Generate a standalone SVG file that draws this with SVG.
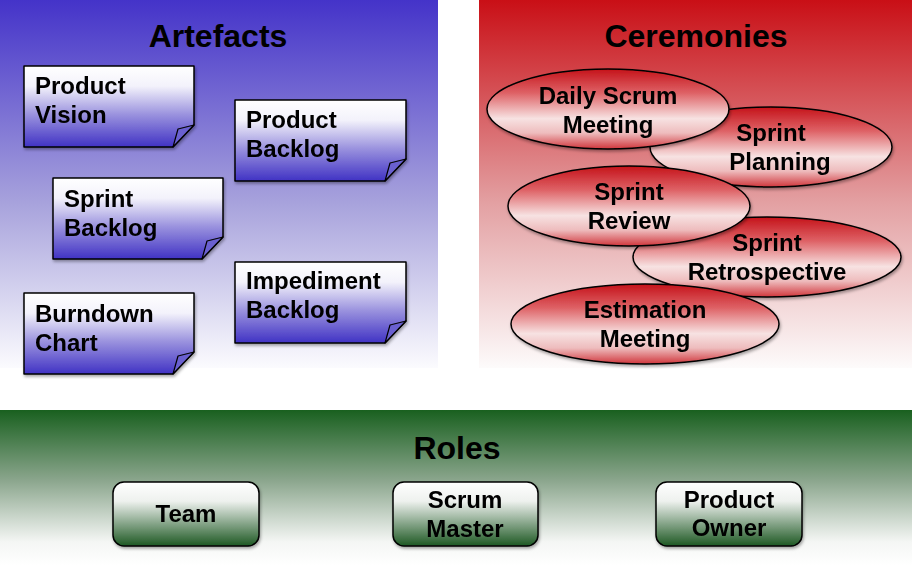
<svg xmlns="http://www.w3.org/2000/svg" width="912" height="565" viewBox="0 0 912 565">
<defs>
<linearGradient id="gBluePanel" x1="0" y1="0" x2="0" y2="1">
<stop offset="0" stop-color="#4433c9"/>
<stop offset="0.55" stop-color="#a7a2dc"/>
<stop offset="1" stop-color="#fbfbfe"/>
</linearGradient>
<linearGradient id="gRedPanel" x1="0" y1="0" x2="0" y2="1">
<stop offset="0" stop-color="#c90f16"/>
<stop offset="0.55" stop-color="#e3a0a2"/>
<stop offset="1" stop-color="#fdfbfb"/>
</linearGradient>
<linearGradient id="gGreenPanel" x1="0" y1="0" x2="0" y2="1">
<stop offset="0" stop-color="#19601f"/>
<stop offset="0.45" stop-color="#8aa58c"/>
<stop offset="0.85" stop-color="#f4f6f4"/>
<stop offset="1" stop-color="#ffffff"/>
</linearGradient>
<linearGradient id="gNote" x1="0" y1="0" x2="0" y2="1">
<stop offset="0" stop-color="#ffffff"/>
<stop offset="0.25" stop-color="#f3f2fb"/>
<stop offset="0.6" stop-color="#9a92de"/>
<stop offset="1" stop-color="#4032c4"/>
</linearGradient>
<linearGradient id="gEll" x1="0" y1="0" x2="0" y2="1">
<stop offset="0" stop-color="#c5131a"/>
<stop offset="0.3" stop-color="#de6266"/>
<stop offset="0.62" stop-color="#f7e2e2"/>
<stop offset="0.8" stop-color="#eebcbd"/>
<stop offset="1" stop-color="#d0363c"/>
</linearGradient>
<linearGradient id="gRole" x1="0" y1="0" x2="0" y2="1">
<stop offset="0" stop-color="#ffffff"/>
<stop offset="0.3" stop-color="#eef1ee"/>
<stop offset="1" stop-color="#1d5823"/>
</linearGradient>
<filter id="sh" x="-10%" y="-10%" width="125%" height="130%">
<feDropShadow dx="1" dy="2" stdDeviation="1.5" flood-color="#000" flood-opacity="0.35"/>
</filter>
</defs>
<style>
.t{font-family:"Liberation Sans",Arial,sans-serif;font-weight:bold;fill:#000}
.title{font-size:32px;text-anchor:middle}
.lbl{font-size:24px}
.c{text-anchor:middle}
.note{fill:url(#gNote);stroke:#000;stroke-width:1.5;stroke-linejoin:round}
.flap{fill:#6a60d0;stroke:#000;stroke-width:1.2;stroke-linejoin:round}
.ell{fill:url(#gEll);stroke:#000;stroke-width:1.5}
.role{fill:url(#gRole);stroke:#000;stroke-width:1.5}
</style>
<rect width="912" height="565" fill="#ffffff"/>
<g id="panel-artefacts">
<rect x="0" y="0" width="438" height="368" fill="url(#gBluePanel)"/>
<text class="t title" x="218" y="47">Artefacts</text>
</g>
<g id="panel-ceremonies">
<rect x="479" y="0" width="433" height="368" fill="url(#gRedPanel)"/>
<text class="t title" x="696" y="47">Ceremonies</text>
</g>
<g id="panel-roles">
<rect x="0" y="410" width="912" height="155" fill="url(#gGreenPanel)"/>
<text class="t title" x="457" y="459">Roles</text>
</g>
<g id="connectors"></g>
<g id="product-vision" filter="url(#sh)">
<path class="note" d="M24,66 h170 v59 l-21,22 h-149 z"/>
<path class="flap" d="M194,125 L178,129 L173,147 z"/>
<text class="t lbl" x="35" y="94">Product</text>
<text class="t lbl" x="35" y="123">Vision</text>
</g>
<g id="product-backlog" filter="url(#sh)">
<path class="note" d="M235,100 h171 v59 l-21,22 h-150 z"/>
<path class="flap" d="M406,159 L390,163 L385,181 z"/>
<text class="t lbl" x="246" y="128">Product</text>
<text class="t lbl" x="246" y="157">Backlog</text>
</g>
<g id="sprint-backlog" filter="url(#sh)">
<path class="note" d="M53,178 h170 v59 l-21,22 h-149 z"/>
<path class="flap" d="M223,237 L207,241 L202,259 z"/>
<text class="t lbl" x="64" y="207">Sprint</text>
<text class="t lbl" x="64" y="236">Backlog</text>
</g>
<g id="impediment-backlog" filter="url(#sh)">
<path class="note" d="M235,262 h171 v59 l-21,22 h-150 z"/>
<path class="flap" d="M406,321 L390,325 L385,343 z"/>
<text class="t lbl" x="246" y="289">Impediment</text>
<text class="t lbl" x="246" y="318">Backlog</text>
</g>
<g id="burndown-chart" filter="url(#sh)">
<path class="note" d="M24,293 h170 v59 l-21,22 h-149 z"/>
<path class="flap" d="M194,352 L178,356 L173,374 z"/>
<text class="t lbl" x="35" y="322">Burndown</text>
<text class="t lbl" x="35" y="351">Chart</text>
</g>
<g id="sprint-planning" filter="url(#sh)">
<ellipse class="ell" cx="771" cy="147" rx="121" ry="40"/>
<text class="t lbl c" x="771" y="141">Sprint</text>
<text class="t lbl c" x="780" y="170">Planning</text>
</g>
<g id="daily-scrum" filter="url(#sh)">
<ellipse class="ell" cx="608" cy="109" rx="121" ry="40"/>
<text class="t lbl c" x="608" y="104">Daily Scrum</text>
<text class="t lbl c" x="608" y="133">Meeting</text>
</g>
<g id="sprint-retrospective" filter="url(#sh)">
<ellipse class="ell" cx="767" cy="257" rx="134" ry="40"/>
<text class="t lbl c" x="767" y="251">Sprint</text>
<text class="t lbl c" x="767" y="280">Retrospective</text>
</g>
<g id="sprint-review" filter="url(#sh)">
<ellipse class="ell" cx="629" cy="206" rx="121" ry="40"/>
<text class="t lbl c" x="629" y="200">Sprint</text>
<text class="t lbl c" x="629" y="229">Review</text>
</g>
<g id="estimation-meeting" filter="url(#sh)">
<ellipse class="ell" cx="645" cy="324" rx="134" ry="40"/>
<text class="t lbl c" x="645" y="318">Estimation</text>
<text class="t lbl c" x="645" y="347">Meeting</text>
</g>
<g id="team" filter="url(#sh)">
<rect class="role" x="113" y="482" width="146" height="64" rx="11"/>
<text class="t lbl c" x="186" y="522">Team</text>
</g>
<g id="scrum-master" filter="url(#sh)">
<rect class="role" x="393" y="482" width="145" height="64" rx="11"/>
<text class="t lbl c" x="465" y="508">Scrum</text>
<text class="t lbl c" x="465" y="537">Master</text>
</g>
<g id="product-owner" filter="url(#sh)">
<rect class="role" x="656" y="482" width="146" height="64" rx="11"/>
<text class="t lbl c" x="729" y="508">Product</text>
<text class="t lbl c" x="729" y="536">Owner</text>
</g>
</svg>
